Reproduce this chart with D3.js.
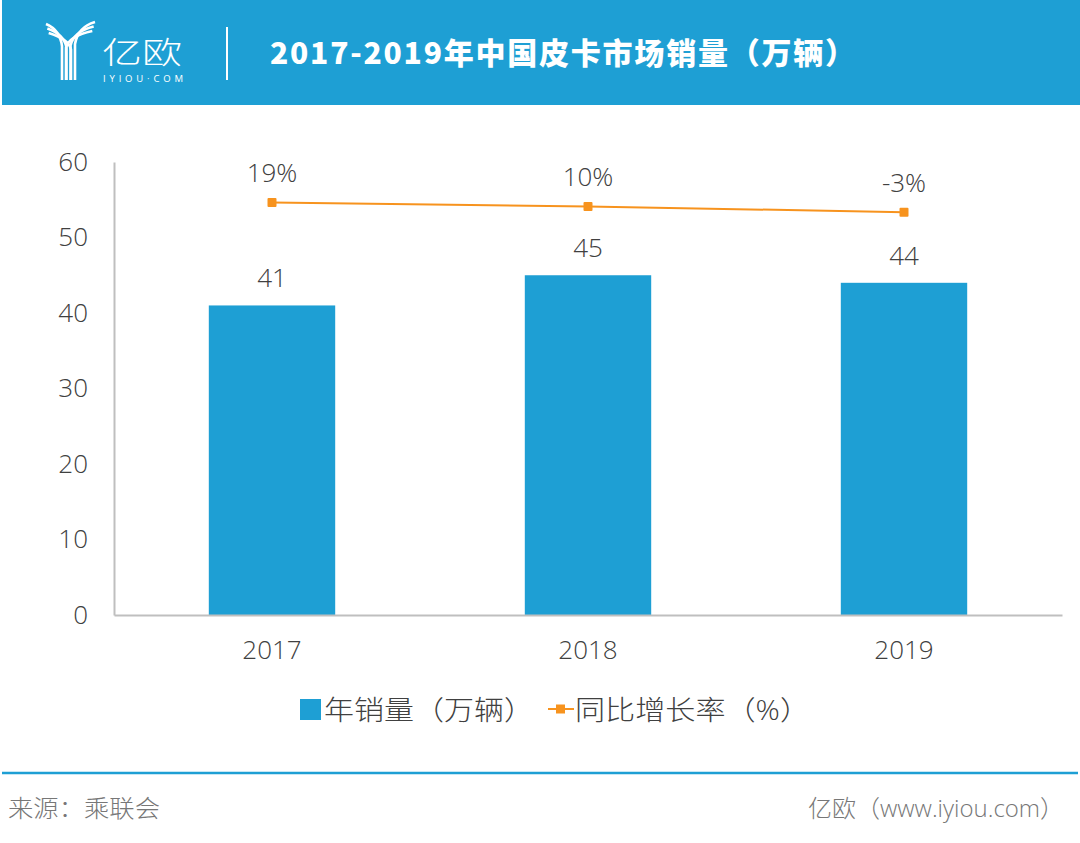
<!DOCTYPE html>
<html>
<head>
<meta charset="utf-8">
<title>2017-2019年中国皮卡市场销量</title>
<script src="https://cdnjs.cloudflare.com/ajax/libs/d3/7.8.5/d3.min.js"></script>
<style>
body { margin: 0; background: #fff; }
text { font-family: "Open Sans", "Noto Sans CJK SC", sans-serif; }
</style>
</head>
<body>
<div id="chart"></div>
<script>
// data
var years = ["2017", "2018", "2019"];
var sales = [41, 45, 44];          // 年销量（万辆）
var growth = [19, 10, -3];         // 同比增长率（%）
var growthLabels = ["19%", "10%", "-3%"];
var yTicks = [0, 10, 20, 30, 40, 50, 60];

var W = 1080, H = 843;
var blue = "#1e9fd4", orange = "#f7931e", textColor = "#404040";
var plot = {left: 114, right: 1062, top: 162, bottom: 615};

var svg = d3.select("#chart").append("svg")
    .attr("width", W).attr("height", H);

// header band
svg.append("rect").attr("x", 2).attr("y", 0).attr("width", W - 2).attr("height", 105).attr("fill", blue);

// logo
var logo = svg.append("g").attr("fill", "none").attr("stroke", "#fff").attr("stroke-width", 2.6);
[0, 1, 2].forEach(function(i) {
  var o = i * 4.5;
  logo.append("path").attr("d", "M" + (46 + o * 0.3) + "," + (24 + o) + " Q" + (60 + o) + "," + (30 + o) + " " + (62 + o) + "," + (46 + o * 0.4) + " L" + (62 + o) + ",80");
  logo.append("path").attr("d", "M" + (95 - o * 0.3) + "," + (22 + o) + " Q" + (78 - o) + "," + (27 + o) + " " + (75 - o) + "," + (44 + o * 0.4) + " L" + (75 - o) + ",80");
});
svg.append("text").attr("x", 102).attr("y", 63).attr("fill", "#fff")
  .style("font-family", "'Noto Sans CJK SC'").style("font-weight", 300)
  .attr("font-size", 30).attr("textLength", 80).attr("lengthAdjust", "spacingAndGlyphs").text("亿欧");
svg.append("text").attr("x", 103).attr("y", 82).attr("fill", "#fff")
  .attr("font-size", 9.5).attr("textLength", 80).text("IYIOU·COM");
svg.append("line").attr("x1", 227).attr("x2", 227).attr("y1", 27).attr("y2", 80)
  .attr("stroke", "#fff").attr("stroke-width", 2);
svg.append("text").attr("x", 270).attr("y", 64).attr("fill", "#fff")
  .style("font-family", "'Noto Sans CJK SC'").style("font-weight", 900)
  .attr("font-size", 30).attr("textLength", 585).text("2017-2019年中国皮卡市场销量（万辆）");

// scales
var x = d3.scaleBand().domain(years).range([plot.left, plot.right])
    .paddingInner(0.6).paddingOuter(0.3);
var y = d3.scaleLinear().domain([0, 60]).range([plot.bottom, plot.top]);
var y2 = d3.scaleLinear().domain([-910, 110]).range([plot.bottom, plot.top]);

// y axis
var yAxis = svg.append("g").attr("transform", "translate(" + plot.left + ",0)")
  .call(d3.axisLeft(y).tickValues(yTicks).tickSize(0).tickPadding(26));
yAxis.select(".domain").attr("stroke", "#bfbfbf").attr("stroke-width", 2);
yAxis.selectAll("text").attr("font-size", 26).attr("fill", textColor).attr("font-weight", 300);

// bars
svg.selectAll(".bar").data(sales).enter().append("rect")
  .attr("class", "bar")
  .attr("x", function(d, i) { return x(years[i]); })
  .attr("y", function(d) { return y(d); })
  .attr("width", x.bandwidth())
  .attr("height", function(d) { return y(0) - y(d); })
  .attr("fill", blue);

svg.selectAll(".barLabel").data(sales).enter().append("text")
  .attr("x", function(d, i) { return x(years[i]) + x.bandwidth() / 2; })
  .attr("y", function(d) { return y(d) - 18; })
  .attr("text-anchor", "middle").attr("font-size", 26).attr("font-weight", 300)
  .attr("fill", textColor).text(function(d) { return d; });

// x axis
var xAxis = svg.append("g").attr("transform", "translate(0," + plot.bottom + ")")
  .call(d3.axisBottom(x).tickSize(0).tickPadding(26));
xAxis.select(".domain").attr("stroke", "#bfbfbf").attr("stroke-width", 2);
xAxis.selectAll("text").attr("font-size", 26).attr("fill", textColor).attr("font-weight", 300);

// growth line
var cx = function(d, i) { return x(years[i]) + x.bandwidth() / 2; };
var line = d3.line().x(cx).y(function(d) { return y2(d); });
svg.append("path").attr("d", line(growth)).attr("fill", "none")
  .attr("stroke", orange).attr("stroke-width", 2);
svg.selectAll(".pt").data(growth).enter().append("rect")
  .attr("x", function(d, i) { return cx(d, i) - 4.5; })
  .attr("y", function(d) { return y2(d) - 4.5; })
  .attr("width", 9).attr("height", 9).attr("rx", 1).attr("fill", orange);
svg.selectAll(".ptLabel").data(growth).enter().append("text")
  .attr("x", cx)
  .attr("y", function(d) { return y2(d) - 20; })
  .attr("text-anchor", "middle").attr("font-size", 26).attr("font-weight", 300)
  .attr("fill", textColor).text(function(d, i) { return growthLabels[i]; });

// legend
var lg = svg.append("g").style("font-family", "'Noto Sans CJK SC'").attr("font-weight", 300);
lg.append("rect").attr("x", 300).attr("y", 699).attr("width", 21).attr("height", 21).attr("fill", blue);
lg.append("text").attr("x", 324).attr("y", 720).attr("font-size", 27)
  .attr("textLength", 210).attr("lengthAdjust", "spacingAndGlyphs")
  .attr("fill", textColor).text("年销量（万辆）");
lg.append("line").attr("x1", 548).attr("x2", 574).attr("y1", 709).attr("y2", 709).attr("stroke", orange).attr("stroke-width", 2);
lg.append("rect").attr("x", 556).attr("y", 704.5).attr("width", 9).attr("height", 9).attr("fill", orange);
lg.append("text").attr("x", 575).attr("y", 720).attr("font-size", 27)
  .attr("textLength", 235).attr("lengthAdjust", "spacingAndGlyphs")
  .attr("fill", textColor).text("同比增长率（%）");

// footer
svg.append("line").attr("x1", 2).attr("x2", 1078).attr("y1", 773).attr("y2", 773)
  .attr("stroke", blue).attr("stroke-width", 2.5);
var ft = svg.append("g").style("font-family", "'Noto Sans CJK SC'").attr("font-weight", 300)
  .attr("font-size", 24).attr("fill", "#777");
ft.append("text").attr("x", 8).attr("y", 817).attr("textLength", 152)
  .attr("lengthAdjust", "spacingAndGlyphs").text("来源：乘联会");
ft.append("text").attr("x", 808).attr("y", 817).attr("textLength", 256)
  .attr("lengthAdjust", "spacingAndGlyphs").text("亿欧（www.iyiou.com）");
</script>
</body>
</html>
